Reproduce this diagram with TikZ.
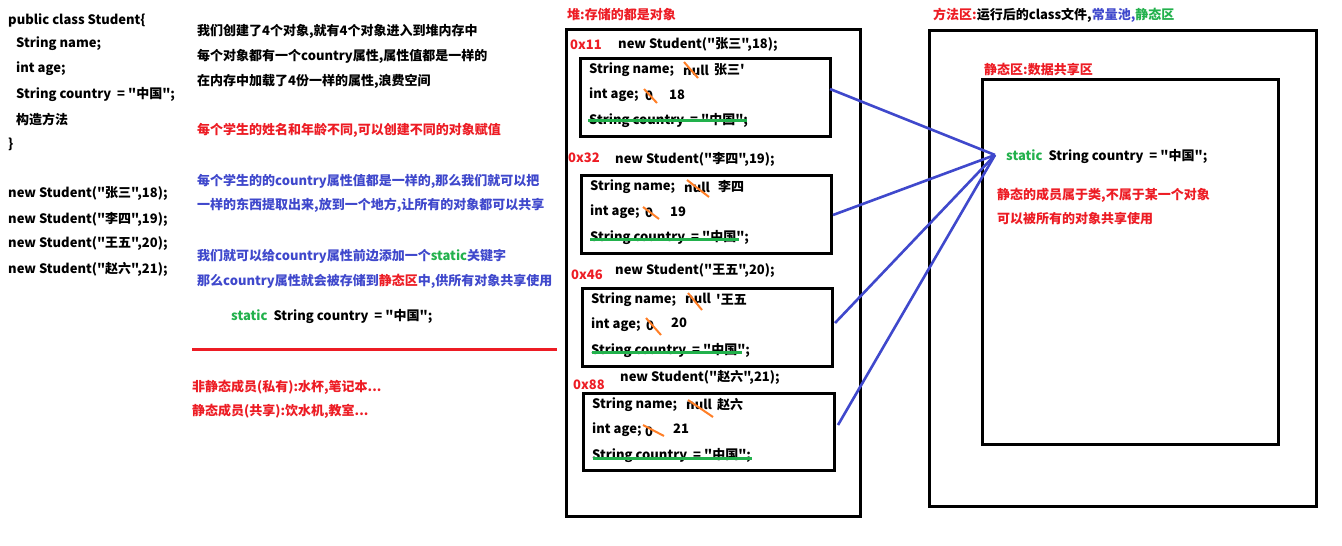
\documentclass[tikz,border=0pt]{standalone}
\usepackage{fontspec}
\newfontfamily\cjkf{Noto Sans CJK SC}
\definecolor{pred}{HTML}{ED1C24}
\definecolor{pblue}{HTML}{3F48CC}
\definecolor{pgreen}{HTML}{22B14C}
\definecolor{porange}{HTML}{FF7F27}
\begin{document}
\begin{tikzpicture}[x=1pt,y=-1pt,
  txt/.style={anchor=west,inner sep=0pt,font=\cjkf\bfseries\fontsize{13}{15}\selectfont},
  rtxt/.style={txt,text=pred},
  btxt/.style={txt,text=pblue},
  box/.style={draw,line width=3pt,anchor=north west,inner sep=0pt},
  link/.style={draw=pblue,line width=2.6pt},
  strike/.style={draw=pgreen,line width=3pt},
  slash/.style={draw=porange,line width=2pt}]
\fill[white] (0,0) rectangle (1342,546);
\useasboundingbox (0,0) rectangle (1342,546);

% ---------- left code ----------
\node[txt] (c1) at (8,20) {public class Student\{};
\node[txt] (c2) at (16,44) {String name;};
\node[txt] (c3) at (16,69) {int age;};
\node[txt] (c4) at (16,94) {String country\ \ = "中国";};
\node[txt] (c5) at (16,119) {构造方法};
\node[txt] (c6) at (8,144) {\}};
\node[txt] (n1) at (8,194) {new Student("张三",18);};
\node[txt] (n2) at (8,219) {new Student("李四",19);};
\node[txt] (n3) at (8,244) {new Student("王五",20);};
\node[txt] (n4) at (8,269) {new Student("赵六",21);};

% ---------- middle text ----------
\node[txt] (m1) at (197,31) {我们创建了4个对象,就有4个对象进入到堆内存中};
\node[txt] (m2) at (197,56) {每个对象都有一个country属性,属性值都是一样的};
\node[txt] (m3) at (197,81) {在内存中加载了4份一样的属性,浪费空间};
\node[rtxt] (m4) at (197,130) {每个学生的姓名和年龄不同,可以创建不同的对象赋值};
\node[btxt] (m5) at (197,181) {每个学生的的country属性值都是一样的,那么我们就可以把};
\node[btxt] (m6) at (197,205) {一样的东西提取出来,放到一个地方,让所有的对象都可以共享};
\node[btxt] (m7) at (197,256) {我们就可以给country属性前边添加一个\textcolor{pgreen}{static}关键字};
\node[btxt] (m8) at (197,281) {那么country属性就会被存储到\textcolor{pred}{静态区}中,供所有对象共享使用};
\node[txt] (m9) at (231,316) {\textcolor{pgreen}{static}\ \ String country\ \ = "中国";};
\coordinate (sepL) at (192,349);
\coordinate (sepR) at (557,349);
\draw[pred,line width=3pt] (sepL) -- (sepR);
\node[rtxt] (m10) at (192,387) {非静态成员(私有):水杯,笔记本...};
\node[rtxt] (m11) at (192,411) {静态成员(共享):饮水机,教室...};

% ---------- heap ----------
\node[rtxt,anchor=west] (heapT) at (567,15) {堆:存储的都是对象};
\node[box,minimum width=294pt,minimum height=487pt] (heap) at (565,28) {};

\node[rtxt] (a1) at (570,45) {0x11};
\node[txt] (h1) at (618,45) {new Student("张三",18);};
\node[box,minimum width=250pt,minimum height=78pt] (b1) at (579,57) {};
\node[txt] (b1n) at (589,70) {String name;};
\node[txt] (b1u) at (683,70) {null};
\node[txt] (b1v) at (714,70) {张三'};
\node[txt] (b1a) at (589,95) {int age;};
\node[txt] (b1z) at (645,96) {0};
\node[txt] (b1w) at (669,95) {18};
\node[txt] (b1c) at (589,120) {String country\ \ = "中国";};
\draw[slash] (684,62) -- (698,78);
\draw[slash] (644,89) -- (657,103);
\draw[strike] (588,120) -- (747,120);

\node[rtxt] (a2) at (568,158) {0x32};
\node[txt] (h2) at (615,159) {new Student("李四",19);};
\node[box,minimum width=250pt,minimum height=78pt] (b2) at (580,174) {};
\node[txt] (b2n) at (590,187) {String name;};
\node[txt] (b2u) at (684,187) {null};
\node[txt] (b2v) at (718,187) {李四};
\node[txt] (b2a) at (590,212) {int age;};
\node[txt] (b2z) at (645,213) {0};
\node[txt] (b2w) at (670,212) {19};
\node[txt] (b2c) at (590,237) {String country\ \ = "中国";};
\draw[slash] (687,180) -- (709,197);
\draw[slash] (643,207) -- (659,219);
\draw[strike] (590,239) -- (739,239);

\node[rtxt] (a3) at (571,275) {0x46};
\node[txt] (h3) at (615,271) {new Student("王五",20);};
\node[box,minimum width=250pt,minimum height=78pt] (b3) at (581,287) {};
\node[txt] (b3n) at (591,300) {String name;};
\node[txt] (b3u) at (685,298) {null};
\node[txt] (b3v) at (716,300) {'王五};
\node[txt] (b3a) at (591,325) {int age;};
\node[txt] (b3z) at (646,326) {0};
\node[txt] (b3w) at (671,323) {20};
\node[txt] (b3c) at (591,350) {String country\ \ = "中国";};
\draw[slash] (688,293) -- (702,310);
\draw[slash] (646,318) -- (661,335);
\draw[strike] (592,352) -- (742,352);

\node[rtxt] (a4) at (573,385) {0x88};
\node[txt] (h4) at (620,377) {new Student("赵六",21);};
\node[box,minimum width=251pt,minimum height=77pt] (b4) at (582,392) {};
\node[txt] (b4n) at (592,405) {String name;};
\node[txt] (b4u) at (686,404) {null};
\node[txt] (b4v) at (717,405) {赵六};
\node[txt] (b4a) at (592,430) {int age;};
\node[txt] (b4z) at (645,432) {0};
\node[txt] (b4w) at (673,429) {21};
\node[txt] (b4c) at (592,455) {String country\ \ = "中国";};
\draw[slash] (688,400) -- (713,417);
\draw[slash] (643,425) -- (664,436);
\draw[strike] (593,458) -- (752,458);

% ---------- method area ----------
\node[txt] (mT) at (933,15) {\textcolor{pred}{方法区:}运行后的class文件,\textcolor{pblue}{常量池,}\textcolor{pgreen}{静态区}};
\node[box,minimum width=387pt,minimum height=476pt] (meth) at (928,29) {};
\node[rtxt] (sT) at (984,70) {静态区:数据共享区};
\node[box,minimum width=296pt,minimum height=365pt] (stat) at (981,78) {};
\node[txt] (sv) at (1006,156) {\textcolor{pgreen}{static}\ \ String country\ \ = "中国";};
\node[rtxt] (s1) at (997,195) {静态的成员属于类,不属于某一个对象};
\node[rtxt] (s2) at (997,219) {可以被所有的对象共享使用};

% ---------- links ----------
\coordinate (hub) at (995,155);
\coordinate (e1) at (830,89);
\coordinate (e2) at (833,215);
\coordinate (e3) at (835,323);
\coordinate (e4) at (838,425);
\draw[link] (e1) -- (hub);
\draw[link] (e2) -- (hub);
\draw[link] (e3) -- (hub);
\draw[link] (e4) -- (hub);
\end{tikzpicture}
\end{document}
